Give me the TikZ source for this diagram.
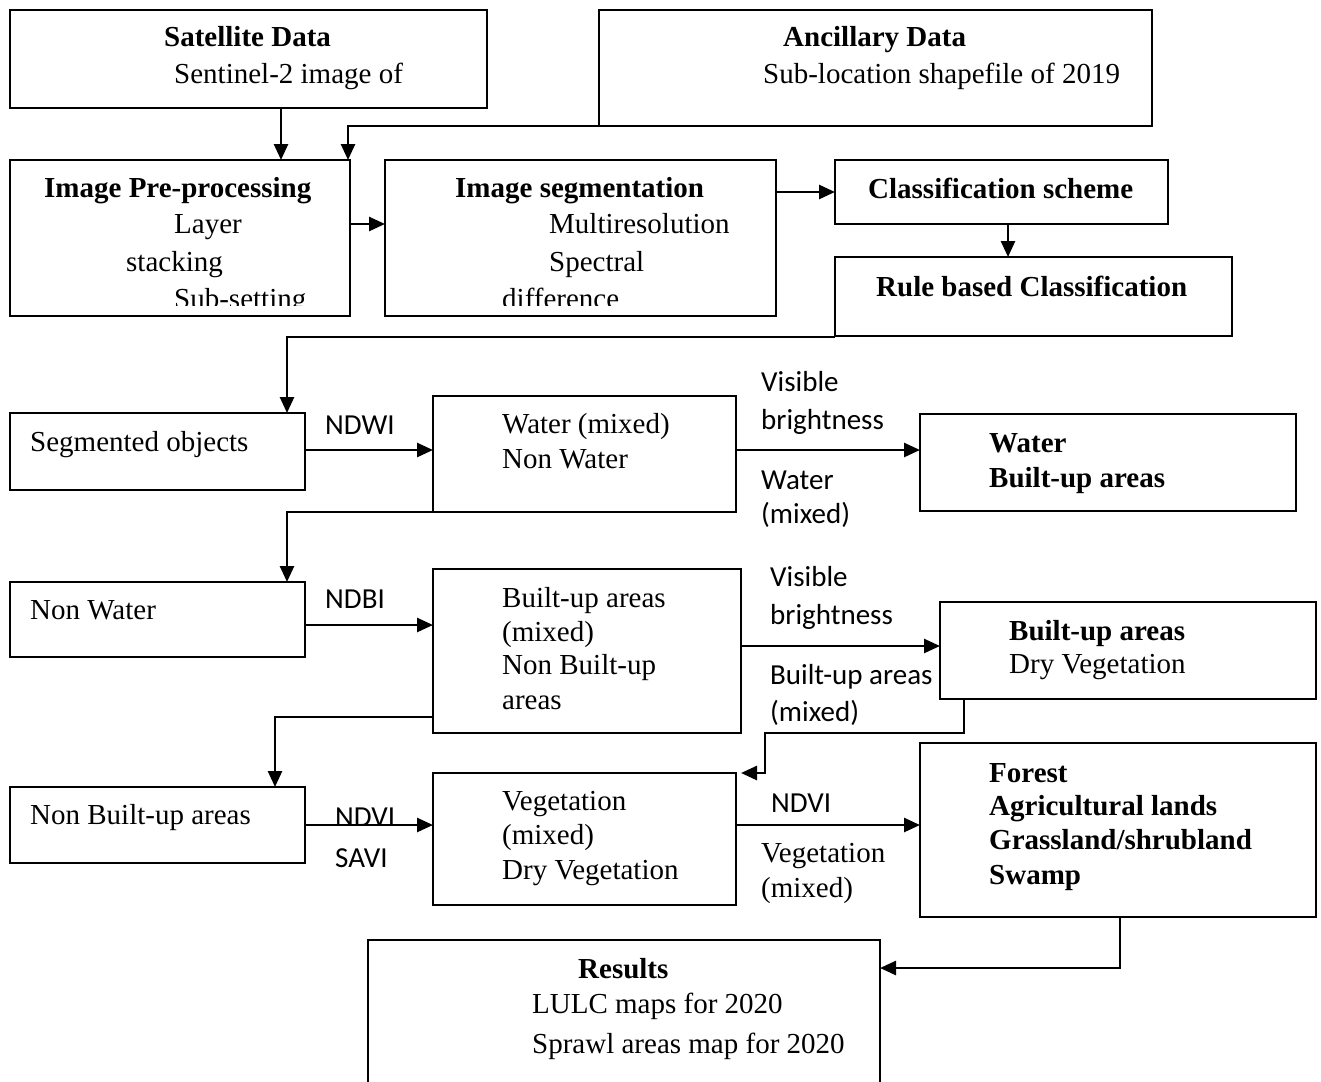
\documentclass[tikz,border=0pt]{standalone}
\usepackage{fontspec}
\setmainfont{Liberation Serif}
\newfontfamily\calibfont{Carlito}
\usetikzlibrary{arrows.meta,calc}
\begin{document}
\begin{tikzpicture}[x=1pt,y=-1pt,
  box/.style={draw,line width=2pt,inner sep=0pt,outer sep=0pt,anchor=north west},
  tx/.style={inner sep=0pt,anchor=base west,font=\fontsize{29}{34}\selectfont},
  tb/.style={tx,font=\fontsize{29}{34}\selectfont\bfseries},
  tc/.style={inner sep=0pt,anchor=base west,font=\fontsize{29}{34}\selectfont\calibfont},
  arr/.style={line width=2.6pt,-{Triangle[length=16pt,width=14pt]}},
  ln/.style={line width=2.6pt}]
\clip (0,0) rectangle (1321,1081);
\fill[white] (0,0) rectangle (1321,1081);
% boxes
\node[box,minimum width=477pt,minimum height=98pt] (sat) at (10,10) {};
\node[box,minimum width=553pt,minimum height=116pt] (anc) at (599,10) {};
\node[box,minimum width=340pt,minimum height=156pt] (pre) at (10,160) {};
\node[box,minimum width=391pt,minimum height=156pt] (seg) at (385,160) {};
\node[box,minimum width=333pt,minimum height=64pt] (cls) at (835,160) {};
\node[box,minimum width=397pt,minimum height=79pt] (rule) at (835,257) {};
\node[box,minimum width=295pt,minimum height=77pt] (sob) at (10,413) {};
\node[box,minimum width=303pt,minimum height=116pt] (wmix) at (433,396) {};
\node[box,minimum width=376pt,minimum height=97pt] (wout) at (920,414) {};
\node[box,minimum width=295pt,minimum height=75pt] (nonw) at (10,582) {};
\node[box,minimum width=308pt,minimum height=164pt] (bmix) at (433,569) {};
\node[box,minimum width=376pt,minimum height=97pt] (bout) at (940,602) {};
\node[box,minimum width=295pt,minimum height=76pt] (nonb) at (10,787) {};
\node[box,minimum width=303pt,minimum height=132pt] (vmix) at (433,773) {};
\node[box,minimum width=396pt,minimum height=174pt] (fout) at (920,743) {};
\node[box,minimum width=512pt,minimum height=150pt] (res) at (368,940) {};
% texts
\node[tb] (t1) at (164,47) {Satellite Data};
\node[tx] (t2) at (174,83) {Sentinel-2 image of};
\node[tb] (t3) at (783,47) {Ancillary Data};
\node[tx] (t4) at (763,83) {Sub-location shapefile of 2019};
\node[tb] (t5) at (44,197) {Image Pre-processing};
\node[tx] (t6) at (174,233) {Layer};
\node[tx] (t7) at (126,271) {stacking};
\node[tb] (t9) at (455,197) {Image segmentation};
\node[tx] (t10) at (549,233) {Multiresolution};
\node[tx] (t11) at (549,271) {Spectral};
\begin{scope}
\clip (12,160) rectangle (774,305);
\node[tx] (t8) at (174,308) {Sub-setting};
\node[tx] (t12) at (502,308) {difference};
\end{scope}
\node[tb] (t13) at (868,198) {Classification scheme};
\node[tb] (t14) at (876,296) {Rule based Classification};
\node[tx] (t15) at (30,451) {Segmented objects};
\node[tc] (t16) at (325,434) {NDWI};
\node[tx] (t17) at (502,433) {Water (mixed)};
\node[tx] (t18) at (502,468) {Non Water};
\node[tc] (t19) at (761,391) {Visible};
\node[tc] (t20) at (761,429) {brightness};
\node[tc] (t21) at (761,489) {Water};
\node[tc] (t22) at (761,523) {(mixed)};
\node[tb] (t23) at (989,452) {Water};
\node[tb] (t24) at (989,487) {Built-up areas};
\node[tx] (t25) at (30,619) {Non Water};
\node[tc] (t26) at (325,608) {NDBI};
\node[tx] (t27) at (502,607) {Built-up areas};
\node[tx] (t28) at (502,641) {(mixed)};
\node[tx] (t29) at (502,674) {Non Built-up};
\node[tx] (t30) at (502,709) {areas};
\node[tc] (t31) at (770,586) {Visible};
\node[tc] (t32) at (770,624) {brightness};
\node[tc] (t33) at (770,684) {Built-up areas};
\node[tc] (t34) at (770,721) {(mixed)};
\node[tb] (t35) at (1009,640) {Built-up areas};
\node[tx] (t36) at (1009,673) {Dry Vegetation};
\node[tx] (t37) at (30,824) {Non Built-up areas};
\node[tc] (t38) at (335,826) {NDVI};
\node[tc] (t39) at (335,867) {SAVI};
\node[tx] (t40) at (502,810) {Vegetation};
\node[tx] (t41) at (502,844) {(mixed)};
\node[tx] (t42) at (502,879) {Dry Vegetation};
\node[tc] (t43) at (771,812) {NDVI};
\node[tx] (t44) at (761,862) {Vegetation};
\node[tx] (t45) at (761,897) {(mixed)};
\node[tb] (t46) at (989,782) {Forest};
\node[tb] (t47) at (989,815) {Agricultural lands};
\node[tb] (t48) at (989,849) {Grassland/shrubland};
\node[tb] (t49) at (989,884) {Swamp};
\node[tb] (t50) at (578,978) {Results};
\node[tx] (t51) at (532,1013) {LULC maps for 2020};
\node[tx] (t52) at (532,1053) {Sprawl areas map for 2020};
% connectors
\coordinate (k1) at (765,733);
\draw[arr] ([xshift=32.5pt]sat.south) -- ([xshift=32.5pt]sat.south |- pre.north);
\draw[arr] (anc.south west) -| ([xshift=-2pt]pre.north east);
\draw[arr] ([yshift=14pt]pre.east) -- ([yshift=14pt]pre.east -| seg.west);
\draw[arr] (seg.east |- cls.west) -- (cls.west);
\draw[arr] ([xshift=6.5pt]cls.south) -- ([xshift=6.5pt]cls.south |- rule.north);
\draw[arr] ([yshift=-1pt]rule.south west) -| ([xshift=-18pt]sob.north east);
\draw[arr] ([yshift=1.5pt]sob.east) -- ([yshift=1.5pt]sob.east -| wmix.west);
\draw[arr] ([yshift=4pt]wmix.east) -- ([yshift=4pt]wmix.east -| wout.west);
\draw[arr] (wmix.south west) -| ([xshift=-18pt]nonw.north east);
\draw[arr] ([yshift=-5.5pt]nonw.east) -- ([yshift=-5.5pt]nonw.east -| bmix.west);
\draw[arr] ([yshift=5pt]bmix.east) -- ([yshift=5pt]bmix.east -| bout.west);
\draw[arr] ([yshift=-66pt]bmix.west) -| ([xshift=-30pt]nonb.north east);
\draw[arr] ([xshift=24pt]bout.south west) |- (k1) |- ([xshift=5pt]vmix.north east);
\draw[arr] (nonb.east) -- (nonb.east -| vmix.west);
\draw[arr] ([yshift=14pt]vmix.east) -- ([yshift=14pt]vmix.east -| fout.west);
\draw[arr] ([xshift=2pt]fout.south) |- ([yshift=47pt]res.east);
\end{tikzpicture}
\end{document}
